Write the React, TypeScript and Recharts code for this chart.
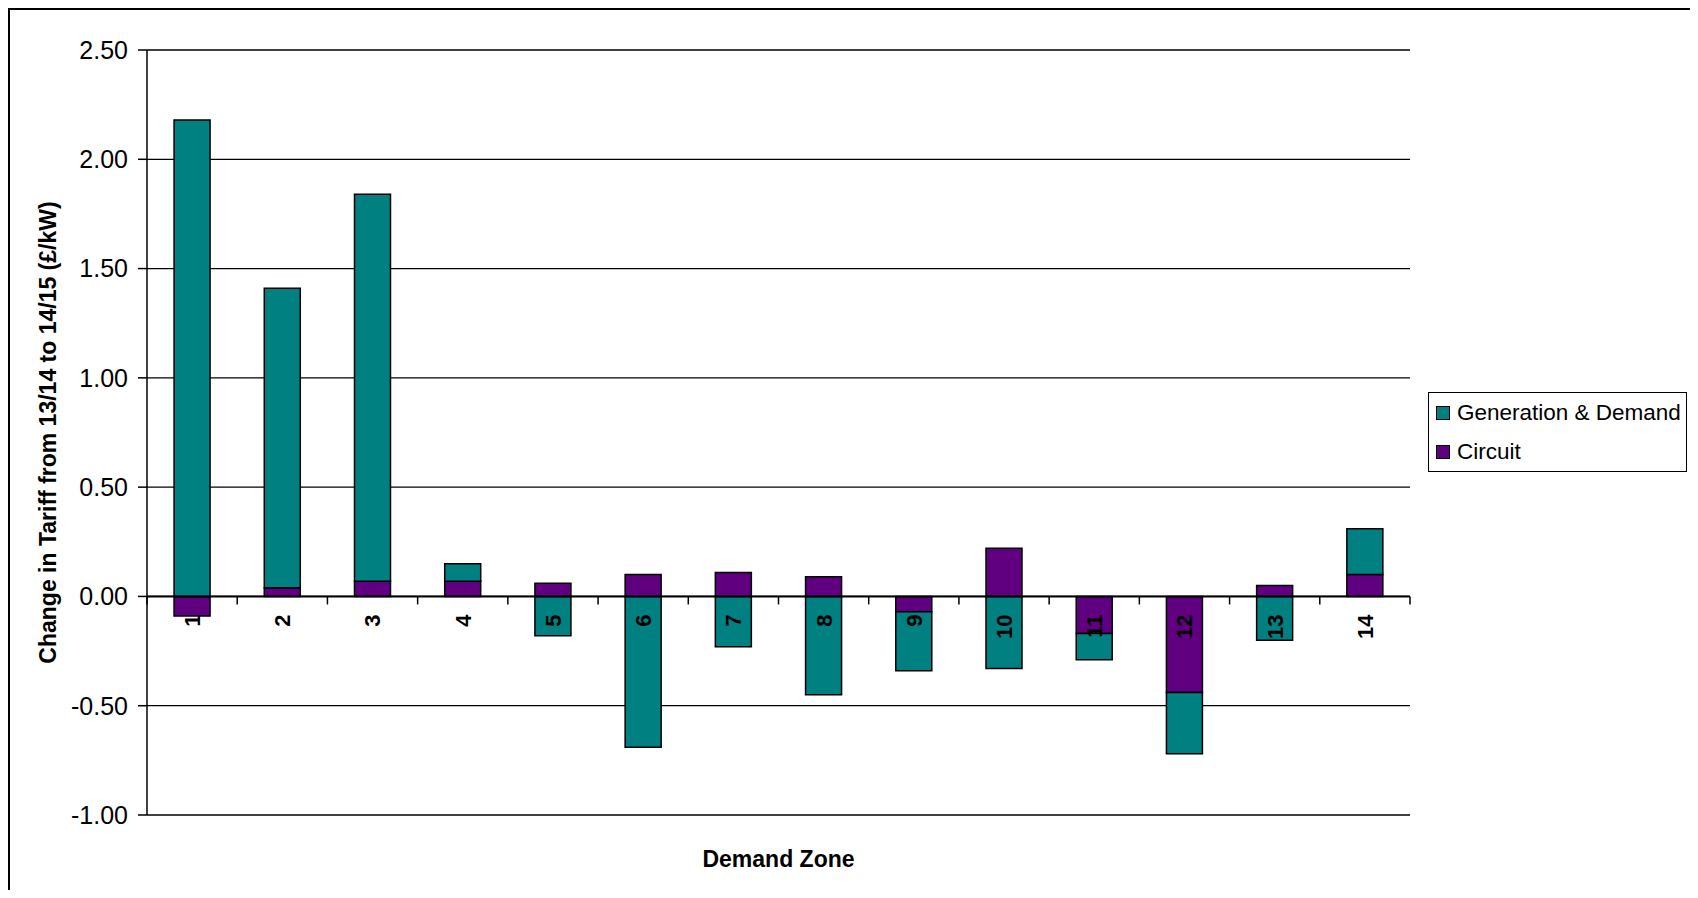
import React from "react";
import { Bar, BarChart, CartesianGrid, Legend, ReferenceLine, XAxis, YAxis } from "recharts";

const zones = ["1", "2", "3", "4", "5", "6", "7", "8", "9", "10", "11", "12", "13", "14"];
const generationDemand = [2.18, 1.37, 1.77, 0.08, -0.18, -0.69, -0.23, -0.45, -0.27, -0.33, -0.12, -0.28, -0.2, 0.21];
const circuit = [-0.09, 0.04, 0.07, 0.07, 0.06, 0.1, 0.11, 0.09, -0.07, 0.22, -0.17, -0.44, 0.05, 0.1];
const yTicks = [-1, -0.5, 0, 0.5, 1, 1.5, 2, 2.5];

const data = zones.map((zone, i) => ({
  zone,
  generation: generationDemand[i],
  circuit: circuit[i]
}));

const TEAL = "#008080";
const PURPLE = "#600080";
const FONT = "'Liberation Sans', Arial, sans-serif";

const WIDTH = 1684;
const HEIGHT = 880;
const MARGIN = { top: 40, right: 284, bottom: 15, left: 0 };
const Y_AXIS_WIDTH = 137;
const X_AXIS_HEIGHT = 60;

const plotWidth = WIDTH - MARGIN.left - MARGIN.right - Y_AXIS_WIDTH;
const plotHeight = HEIGHT - MARGIN.top - MARGIN.bottom - X_AXIS_HEIGHT;
const yMin = yTicks[0];
const yMax = yTicks[yTicks.length - 1];
// the category axis crosses the value axis at zero
const zeroY = MARGIN.top + (plotHeight * yMax) / (yMax - yMin);
const band = plotWidth / zones.length;

function ZoneTick(props: any) {
  const { x, payload, index } = props;
  const left = x - band / 2;
  return (
    <g>
      <line x1={left} x2={left} y1={zeroY} y2={zeroY + 8} stroke="#000" strokeWidth={1.5} />
      {index === zones.length - 1 && (
        <line x1={x + band / 2} x2={x + band / 2} y1={zeroY} y2={zeroY + 8} stroke="#000" strokeWidth={1.5} />
      )}
      <text
        x={x}
        y={zeroY + 18}
        transform={`rotate(-90 ${x} ${zeroY + 18})`}
        textAnchor="end"
        dy="0.36em"
        fontFamily={FONT}
        fontWeight="bold"
        fontSize={22}
        fill="#000"
      >
        {payload.value}
      </text>
    </g>
  );
}

function LegendBox() {
  const items = [
    { label: "Generation & Demand", color: TEAL },
    { label: "Circuit", color: PURPLE }
  ];
  return (
    <div
      style={{
        width: 259,
        height: 80,
        boxSizing: "border-box",
        border: "1.5px solid #000",
        background: "#fff",
        display: "flex",
        flexDirection: "column",
        justifyContent: "center",
        fontFamily: FONT,
        fontSize: 22.5,
        color: "#000"
      }}
    >
      {items.map((item) => (
        <div key={item.label} style={{ display: "flex", alignItems: "center", height: 39, paddingLeft: 7 }}>
          <span
            style={{
              width: 12,
              height: 12,
              background: item.color,
              border: "1.5px solid #000",
              marginRight: 7,
              flexShrink: 0
            }}
          />
          <span style={{ whiteSpace: "nowrap" }}>{item.label}</span>
        </div>
      ))}
    </div>
  );
}

export default function App() {
  return (
    <div
      style={{
        width: 1688,
        height: 882,
        boxSizing: "border-box",
        borderTop: "2px solid #000",
        borderLeft: "2px solid #000",
        borderRight: "2px solid #000",
        background: "#fff",
        fontFamily: FONT
      }}
    >
      <BarChart width={WIDTH} height={HEIGHT} data={data} margin={MARGIN} stackOffset="sign" barCategoryGap="30%">
        <CartesianGrid horizontal vertical={false} stroke="#000" strokeWidth={1.3} />
        <YAxis
          type="number"
          domain={[yMin, yMax]}
          ticks={yTicks}
          width={Y_AXIS_WIDTH}
          tickFormatter={(v: number) => v.toFixed(2)}
          tick={{ fill: "#000", fontSize: 25, fontFamily: FONT }}
          tickSize={9}
          tickMargin={10}
          tickLine={{ stroke: "#000", strokeWidth: 1.5 }}
          axisLine={{ stroke: "#000", strokeWidth: 1.5 }}
          label={(p: any) => {
            const vb = p.viewBox || { x: 0, y: MARGIN.top, height: plotHeight };
            const cx = vb.x + 38;
            const cy = vb.y + vb.height / 2;
            return (
              <text
                x={cx}
                y={cy}
                transform={`rotate(-90 ${cx} ${cy})`}
                textAnchor="middle"
                dy="0.35em"
                fontFamily={FONT}
                fontWeight="bold"
                fontSize={23}
                fill="#000"
              >
                Change in Tariff from 13/14 to 14/15 (£/kW)
              </text>
            );
          }}
        />
        <Bar dataKey="circuit" name="Circuit" stackId="a" fill={PURPLE} stroke="#000" strokeWidth={1.5} isAnimationActive={false} />
        <Bar
          dataKey="generation"
          name="Generation & Demand"
          stackId="a"
          fill={TEAL}
          stroke="#000"
          strokeWidth={1.5}
          isAnimationActive={false}
        />
        <ReferenceLine y={0} stroke="#000" strokeWidth={2} />
        <XAxis
          dataKey="zone"
          height={X_AXIS_HEIGHT}
          interval={0}
          axisLine={false}
          tickLine={false}
          tick={<ZoneTick />}
          label={(p: any) => {
            const vb = p.viewBox || { x: MARGIN.left + Y_AXIS_WIDTH, y: MARGIN.top + plotHeight, width: plotWidth };
            return (
              <text
                x={vb.x + vb.width / 2}
                y={vb.y + 44}
                textAnchor="middle"
                dy="0.35em"
                fontFamily={FONT}
                fontWeight="bold"
                fontSize={23}
                fill="#000"
              >
                Demand Zone
              </text>
            );
          }}
        />
        <Legend
          layout="vertical"
          align="center"
          verticalAlign="middle"
          content={() => <LegendBox />}
          wrapperStyle={{ left: 1418, top: 382, width: 259, height: 80 }}
        />
      </BarChart>
    </div>
  );
}
